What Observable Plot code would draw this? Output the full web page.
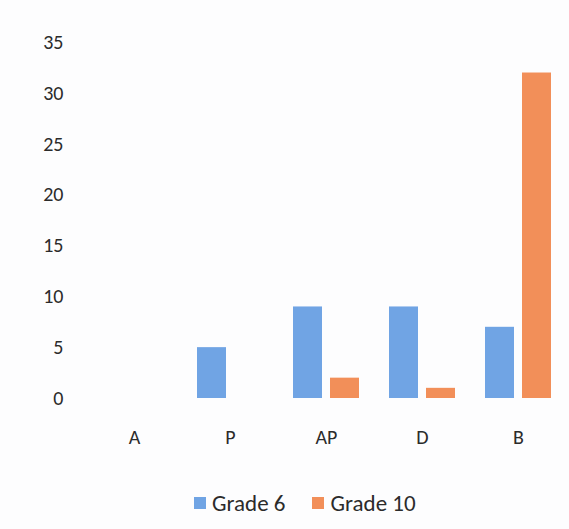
<!DOCTYPE html>
<html>
<head>
<meta charset="utf-8">
<script src="https://cdn.jsdelivr.net/npm/d3@7"></script>
<script src="https://cdn.jsdelivr.net/npm/@observablehq/plot@0.6"></script>
<style>
  body { margin: 0; background: #fdfdfe; font-family: Carlito, Calibri, Lato, "Open Sans", sans-serif; }
  #wrap { position: relative; width: 569px; height: 529px; }
  #legend { position: absolute; left: 194px; top: 490px; height: 26px; line-height: 26px; display: flex; align-items: center; font-size: 23px; color: #2b2b2b; }
  .sw { width: 12px; height: 12px; display: inline-block; margin-right: 6px; }
  .item { display: flex; align-items: center; margin-right: 27px; }
</style>
</head>
<body>
<div id="wrap"><div id="chart"></div><div id="legend"></div></div>
<script>
const categories = ["A", "P", "AP", "D", "B"];
const series = ["Grade 6", "Grade 10"];
const grade6 = [0, 5, 9, 9, 7];
const grade10 = [0, 0, 2, 1, 32];
const yTicks = [0, 5, 10, 15, 20, 25, 30, 35];
const colors = ["#70a4e4", "#f28f59"];

const data = [];
categories.forEach((c, i) => {
  data.push({category: c, series: series[0], value: grade6[i]});
  data.push({category: c, series: series[1], value: grade10[i]});
});

const chart = Plot.plot({
  width: 569,
  height: 470,
  marginTop: 42,
  marginBottom: 72,
  marginLeft: 84,
  marginRight: 1,
  style: {fontFamily: "Carlito, Calibri, Lato, sans-serif", fontSize: "20px", color: "#2b2b2b", background: "transparent"},
  fx: {domain: categories, padding: 0, label: null, axis: "bottom", tickSize: 0, tickPadding: 31},
  x: {domain: series, paddingInner: 0.21, paddingOuter: 0.4, axis: null},
  y: {domain: [0, 35], ticks: yTicks, tickSize: 0, tickPadding: 23, label: null},
  color: {domain: series, range: colors},
  marks: [
    Plot.barY(data, {fx: "category", x: "series", y: "value", fill: "series"})
  ]
});
document.getElementById("chart").appendChild(chart);

const legend = document.getElementById("legend");
series.forEach((s, i) => {
  const item = document.createElement("div");
  item.className = "item";
  const sw = document.createElement("span");
  sw.className = "sw";
  sw.style.background = colors[i];
  item.appendChild(sw);
  item.appendChild(document.createTextNode(s));
  legend.appendChild(item);
});
</script>
</body>
</html>
